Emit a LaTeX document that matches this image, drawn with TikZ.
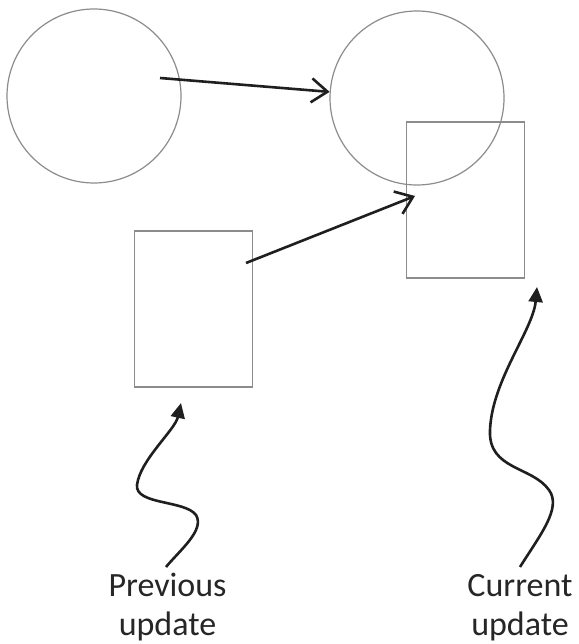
\documentclass[tikz,border=0pt]{standalone}
\usepackage{fontspec}
\setmainfont{Carlito}
\usetikzlibrary{positioning,arrows.meta}

\begin{document}
\begin{tikzpicture}[x=1pt,y=-1pt,
  shapeline/.style={draw=black!45, line width=1.2pt},
  blob/.style={shapeline, circle, minimum size=174pt, inner sep=0pt},
  upd/.style={shapeline, rectangle, minimum width=118pt, minimum height=156pt, inner sep=0pt},
  movearrow/.style={line width=2.6pt, draw=black!88, -{Straight Barb[length=16pt,width=24pt,line width=2.6pt]}},
  wavearrow/.style={line width=2.6pt, draw=black!88, -{Triangle[length=15pt,width=14pt]}},
  lbl/.style={align=center, text=black!85, inner sep=0pt, font=\fontsize{34}{39}\selectfont}]
\useasboundingbox (0,0) rectangle (578,644);
\node[blob] (oldcirc) at (94,96) {};
\node[blob] (newcirc) at (417,98) {};
\node[upd] (oldbox) at (193.5,309) {};
\node[upd] (newbox) at (465.5,200) {};
\node[lbl, anchor=base] (prevlbl) at (167.5,635) {Previous\\update};
\node[lbl, anchor=base] (currlbl) at (520,635) {Current\\update};
\coordinate (oldc) at (160,78);
\coordinate (oldb) at (246,263);
\coordinate (newb) at (415,196);
\coordinate (prevend) at (181,403);
\coordinate (currend) at (537,287);
\draw[movearrow] (oldc) -- (newcirc.176);
\draw[movearrow] (oldb) -- (newb);
\draw[wavearrow] (166,567) .. controls (180,550) and (205,530) .. (196,515)
  .. controls (185,500) and (135,505) .. (137,485)
  .. controls (140,460) and (175,430) .. (prevend);
\draw[wavearrow] (520,567) .. controls (540,535) and (562,508) .. (549,490)
  .. controls (532,466) and (488,470) .. (490,430)
  .. controls (492,380) and (533,330) .. (currend);
\end{tikzpicture}
\end{document}
